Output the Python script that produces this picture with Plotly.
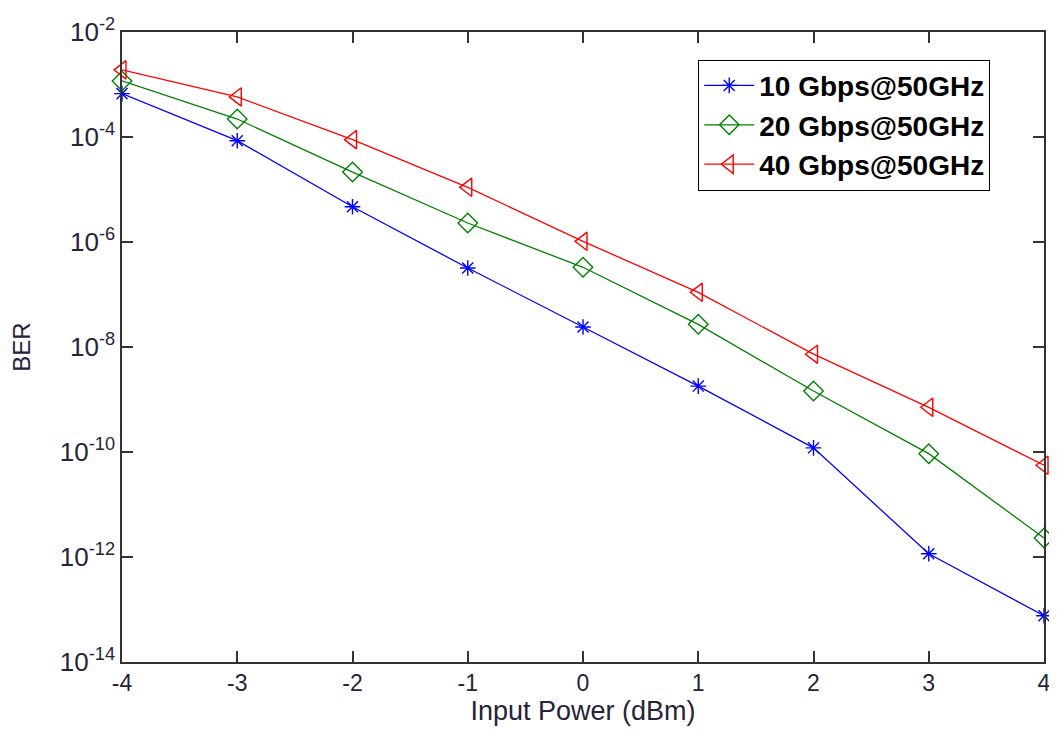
import plotly.graph_objects as go

# Input power (dBm)
power_dbm = [-4, -3, -2, -1, 0, 1, 2, 3, 4]
x_ticktext = ["-4", "-3", "-2", "-1", "0", "1", "2", "3", "4"]

# BER values
ber_10g = [6.7e-4, 8.5e-5, 4.7e-6, 3.2e-7, 2.4e-8, 1.8e-9, 1.2e-10, 1.15e-12, 7.6e-14]
ber_20g = [1.17e-3, 2.2e-4, 2.15e-5, 2.3e-6, 3.3e-7, 2.7e-8, 1.45e-9, 9.3e-11, 2.3e-12]
ber_40g = [1.9e-3, 5.8e-4, 8.9e-5, 1.1e-5, 1.03e-6, 1.1e-7, 7.3e-9, 7.1e-10, 5.6e-11]

y_tickvals = [1e-14, 1e-12, 1e-10, 1e-8, 1e-6, 1e-4, 1e-2]
y_ticktext = ["10<sup>-14</sup>", "10<sup>-12</sup>", "10<sup>-10</sup>", "10<sup>-8</sup>",
              "10<sup>-6</sup>", "10<sup>-4</sup>", "10<sup>-2</sup>"]

FONT = "Liberation Sans, Arial, sans-serif"
TEXT = "#26233a"
AXIS = "#333333"

series = [
    ("10 Gbps@50GHz", ber_10g, "#0000FF", "asterisk-open", 13),
    ("20 Gbps@50GHz", ber_20g, "#008000", "diamond-open", 15),
    ("40 Gbps@50GHz", ber_40g, "#FF0000", "triangle-left-open", 16),
]

fig = go.Figure()
for name, vals, color, symbol, size in series:
    fig.add_trace(
        go.Scatter(
            x=power_dbm,
            y=vals,
            mode="lines+markers",
            name=name,
            line=dict(color=color, width=1.3),
            marker=dict(symbol=symbol, size=size, color=color,
                        line=dict(color=color, width=1.4)),
            cliponaxis=False,
        )
    )

# the page body has an 8px margin, so the figure is sized to sit inside it
fig.update_layout(
    width=1049,
    height=723,
    paper_bgcolor="white",
    plot_bgcolor="white",
    font=dict(family=FONT, color=TEXT, size=23),
    margin=dict(l=114, r=6, t=24, b=69),
    showlegend=True,
    legend=dict(
        x=0.625,
        y=0.956,
        xanchor="left",
        yanchor="top",
        bgcolor="white",
        bordercolor="black",
        borderwidth=1,
        font=dict(family=FONT, size=28, color="black", weight="bold"),
        itemwidth=50,
        tracegroupgap=0,
    ),
)

fig.update_xaxes(
    range=[-4, 4],
    tickvals=power_dbm,
    ticktext=x_ticktext,
    ticks="inside",
    ticklen=11,
    tickwidth=1.5,
    tickcolor=AXIS,
    showline=True,
    linecolor=AXIS,
    linewidth=1.5,
    mirror="ticks",
    showgrid=False,
    zeroline=False,
    tickfont=dict(size=23, color=TEXT),
    title=dict(text="Input Power (dBm)", font=dict(size=27, color=TEXT), standoff=3),
)

fig.update_yaxes(
    type="log",
    range=[-14, -2],
    tickvals=y_tickvals,
    ticktext=y_ticktext,
    ticks="inside",
    ticklen=11,
    tickwidth=1.5,
    tickcolor=AXIS,
    showline=True,
    linecolor=AXIS,
    linewidth=1.5,
    mirror="ticks",
    showgrid=False,
    zeroline=False,
    tickfont=dict(size=26, color=TEXT),
    title=dict(text="BER", font=dict(size=24, color=TEXT), standoff=22),
)

fig.write_html("out.html")
